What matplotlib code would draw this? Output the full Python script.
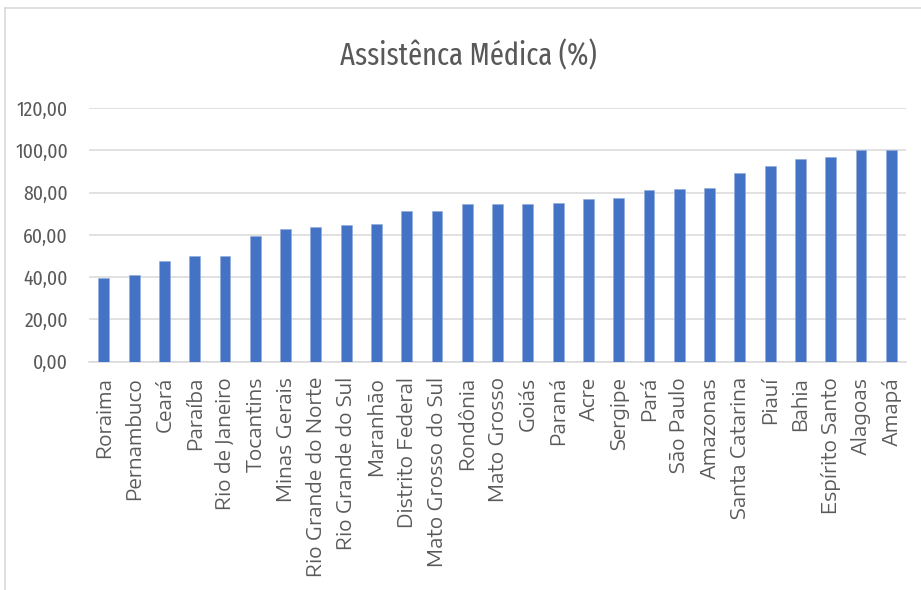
import matplotlib
matplotlib.use("Agg")
import matplotlib.pyplot as plt
from matplotlib import font_manager
from matplotlib.lines import Line2D

# Brazilian states and share with medical assistance (%)
states = [
    "Roraima", "Pernambuco", "Ceará", "Paraíba", "Rio de Janeiro", "Tocantins",
    "Minas Gerais", "Rio Grande do Norte", "Rio Grande do Sul", "Maranhão",
    "Distrito Federal", "Mato Grosso do Sul", "Rondônia", "Mato Grosso", "Goiás",
    "Paraná", "Acre", "Sergipe", "Pará", "São Paulo", "Amazonas",
    "Santa Catarina", "Piauí", "Bahia", "Espírito Santo", "Alagoas", "Amapá",
]
values = [
    39.7, 41.0, 47.8, 50.1, 50.1, 59.3,
    62.9, 63.5, 64.8, 65.3,
    71.4, 71.4, 74.4, 74.4, 74.4,
    74.9, 76.8, 77.4, 81.0, 81.6, 82.3,
    89.5, 92.5, 95.7, 96.9, 100.0, 100.0,
]
y_ticks = [0, 20, 40, 60, 80, 100, 120]
y_tick_labels = ["0,00", "20,00", "40,00", "60,00", "80,00", "100,00", "120,00"]
title = "Assistênca Médica (%)"

TEXT = "#595959"
GRID = "#d9d9d9"
BAR = "#4472C4"


def pick(candidates):
    for name in candidates:
        try:
            font_manager.findfont(font_manager.FontProperties(family=name),
                                  fallback_to_default=False)
            return name
        except ValueError:
            continue
    return "DejaVu Sans"


TITLE_FONT = pick(["Fira Sans Extra Condensed", "Fira Sans Condensed", "Carlito"])
TICK_FONT = pick(["Fira Sans Condensed", "Carlito"])
CAT_FONT = pick(["Encode Sans Expanded", "Encode Sans Semi Expanded", "DejaVu Sans"])

fig = plt.figure(figsize=(9.21, 5.90), dpi=100)
renderer = fig.canvas.get_renderer()


def fit_size(text, family, target_px, weight="normal", base=12.0):
    t = fig.text(0, 0, text, family=[family, "DejaVu Sans"], fontsize=base, weight=weight)
    w = t.get_window_extent(renderer).width
    t.remove()
    return base * target_px / w


title_size = fit_size(title, TITLE_FONT, 257)
tick_size = fit_size("120,00", TICK_FONT, 51)
cat_size = fit_size("Rio Grande do Norte", CAT_FONT, 200)

ax = fig.add_axes([0.0963, 0.3869, 0.8879, 0.4300])

x = list(range(len(states)))
ax.bar(x, values, width=0.36, color=BAR, edgecolor="#8faadc", linewidth=0.4, zorder=3)

ax.set_xlim(-0.5, len(states) - 0.5)
ax.set_ylim(0, 120)
ax.set_yticks(y_ticks)
ax.set_yticklabels(y_tick_labels, family=[TICK_FONT, "DejaVu Sans"], fontsize=tick_size,
                   color=TEXT)
ax.set_xticks(x)
ax.set_xticklabels(states, rotation=90, family=[CAT_FONT, "DejaVu Sans"], fontsize=cat_size,
                   color=TEXT, va="top", ha="center")
ax.tick_params(axis="y", length=0, pad=15)
ax.tick_params(axis="x", length=0, pad=11)

ax.yaxis.grid(True, color=GRID, linewidth=1.1, zorder=0)
for side in ("left", "right", "top"):
    ax.spines[side].set_visible(False)
ax.spines["bottom"].set_color(GRID)
ax.spines["bottom"].set_linewidth(1.1)

fig.text(468 / 921, 1 - 56 / 590, title, family=[TITLE_FONT, "DejaVu Sans"],
         fontsize=title_size, color=TEXT, ha="center", va="center")

# outer chart-area border (left and top edges)
fig.add_artist(Line2D([5 / 921, 5 / 921], [0, 1 - 8 / 590], transform=fig.transFigure,
                      color=GRID, linewidth=1.2))
fig.add_artist(Line2D([5 / 921, 1], [1 - 8 / 590, 1 - 8 / 590], transform=fig.transFigure,
                      color=GRID, linewidth=1.2))

fig.savefig("out.png", dpi=100, facecolor="white")
